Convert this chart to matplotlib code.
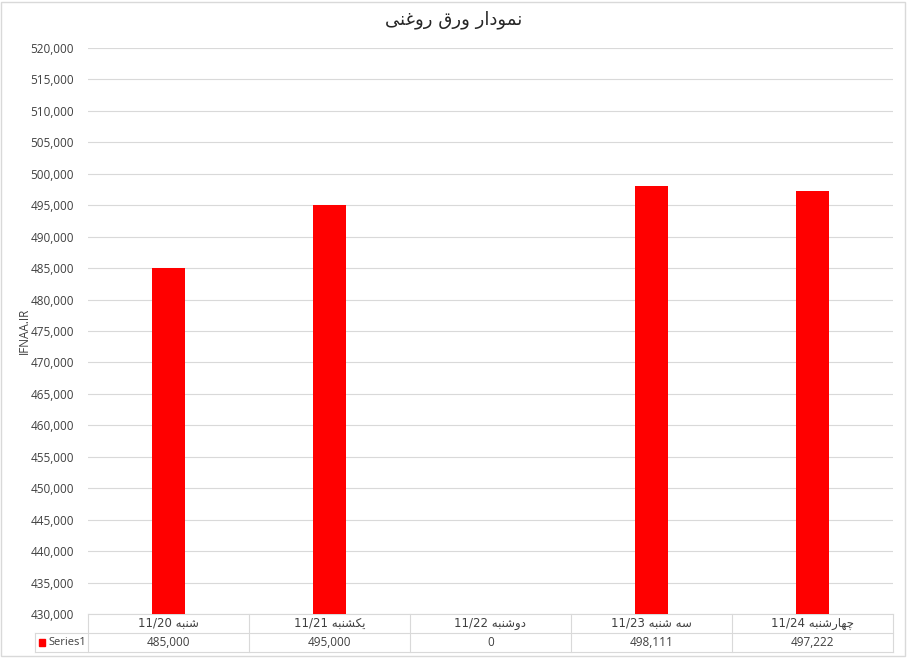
import matplotlib
matplotlib.use("Agg")
import matplotlib.pyplot as plt
from matplotlib.patches import Rectangle
from matplotlib.ticker import FuncFormatter, MultipleLocator

title = "نمودار ورق روغنی"
ylabel = "IFNAA.IR"
categories = ["شنبه 11/20", "یکشنبه 11/21", "دوشنبه 11/22", "سه شنبه 11/23", "چهارشنبه 11/24"]
series_name = "Series1"
values = [485000, 495000, 0, 498111, 497222]
ymin, ymax, ystep = 430000, 520000, 5000

# isolated, final, initial, medial presentation forms (None = does not join to the next letter)
FORMS = {
    "ا": ("\uFE8D", "\uFE8E", None, None),
    "ب": ("\uFE8F", "\uFE90", "\uFE91", "\uFE92"),
    "د": ("\uFEA9", "\uFEAA", None, None),
    "ر": ("\uFEAD", "\uFEAE", None, None),
    "س": ("\uFEB1", "\uFEB2", "\uFEB3", "\uFEB4"),
    "ش": ("\uFEB5", "\uFEB6", "\uFEB7", "\uFEB8"),
    "غ": ("\uFECD", "\uFECE", "\uFECF", "\uFED0"),
    "ق": ("\uFED5", "\uFED6", "\uFED7", "\uFED8"),
    "م": ("\uFEE1", "\uFEE2", "\uFEE3", "\uFEE4"),
    "ن": ("\uFEE5", "\uFEE6", "\uFEE7", "\uFEE8"),
    "ه": ("\uFEE9", "\uFEEA", "\uFEEB", "\uFEEC"),
    "و": ("\uFEED", "\uFEEE", None, None),
    "ی": ("\uFBFC", "\uFBFD", "\uFBFE", "\uFBFF"),
    "ک": ("\uFB8E", "\uFB8F", "\uFB90", "\uFB91"),
    "چ": ("\uFB7A", "\uFB7B", "\uFB7C", "\uFB7D"),
}


def shape_word(w):
    out = []
    for i, ch in enumerate(w):
        if ch not in FORMS:
            out.append(ch)
            continue
        prev = w[i - 1] if i > 0 else None
        nxt = w[i + 1] if i + 1 < len(w) else None
        jp = prev in FORMS and FORMS[prev][2] is not None
        jn = nxt in FORMS and FORMS[ch][2] is not None
        iso, fin, ini, med = FORMS[ch]
        out.append(med if jp and jn else fin if jp else ini if jn else iso)
    return "".join(out)[::-1]


def rtl(s):
    toks = [shape_word(t) if any(c in FORMS for c in t) else t for t in s.split(" ")]
    return " ".join(toks[::-1])


plt.rcParams["font.family"] = ["Open Sans", "DejaVu Sans"]
GRID = "#d9d9d9"
TXT = "#404040"

W, H = 908, 659
fig = plt.figure(figsize=(W / 100, H / 100), dpi=100)
L, R, T, B = 88, 893, 48, 614
ax = fig.add_axes([L / W, 1 - B / H, (R - L) / W, (B - T) / H])

x = list(range(len(categories)))
ax.bar(x, values, width=0.205, color="#ff0000", zorder=3)
ax.set_xlim(-0.5, len(categories) - 0.5)
ax.set_ylim(ymin, ymax)
ax.yaxis.set_major_locator(MultipleLocator(ystep))
ax.yaxis.set_major_formatter(FuncFormatter(lambda v, p: f"{v:,.0f}"))
ax.grid(axis="y", color=GRID, linewidth=0.8, zorder=0)
ax.set_xticks([])
ax.tick_params(axis="y", length=0, pad=10, labelsize=8.5, labelcolor=TXT)
for s in ax.spines.values():
    s.set_visible(False)
ax.set_ylabel(ylabel, fontsize=8.5, color=TXT)
ax.yaxis.set_label_coords(-(L - 31) / (R - L), 0.5)

# data table under the plot
tr = ax.get_xaxis_transform()
ph = B - T
r1, r2 = -19 / ph, -38 / ph
cw = (R - L) / len(categories)
xl = -0.5 - (L - 35) / cw
kw = dict(color=GRID, linewidth=0.8, transform=tr, clip_on=False)
ax.plot([-0.5, len(categories) - 0.5], [0, 0], **kw)
ax.plot([xl, len(categories) - 0.5], [r1, r1], **kw)
ax.plot([xl, len(categories) - 0.5], [r2, r2], **kw)
ax.plot([xl, xl], [r1, r2], **kw)
for i in range(len(categories) + 1):
    ax.plot([i - 0.5, i - 0.5], [0, r2], **kw)
for i, (c, v) in enumerate(zip(categories, values)):
    ax.text(i, r1 / 2, rtl(c), transform=tr, ha="center", va="center",
            fontsize=8.5, color=TXT, family=["DejaVu Sans"])
    ax.text(i, (r1 + r2) / 2, f"{v:,}", transform=tr, ha="center", va="center",
            fontsize=8.5, color=TXT)
ax.text(xl + 13 / cw, (r1 + r2) / 2, series_name, transform=tr, ha="left", va="center",
        fontsize=8, color=TXT)
ax.add_patch(Rectangle((xl + 4 / cw, (r1 + r2) / 2 - 3.5 / ph), 6 / cw, 7 / ph,
                       transform=tr, color="#ff0000", clip_on=False))

fig.text(0.5, 1 - 20 / H, rtl(title), ha="center", va="center", fontsize=13,
         color="#262626", family=["DejaVu Sans"])
fig.patches.append(Rectangle((1 / W, 3 / H), (W - 4) / W, (H - 5) / H, transform=fig.transFigure,
                             fill=False, edgecolor=GRID, linewidth=1))

fig.savefig("out.png", dpi=100)
